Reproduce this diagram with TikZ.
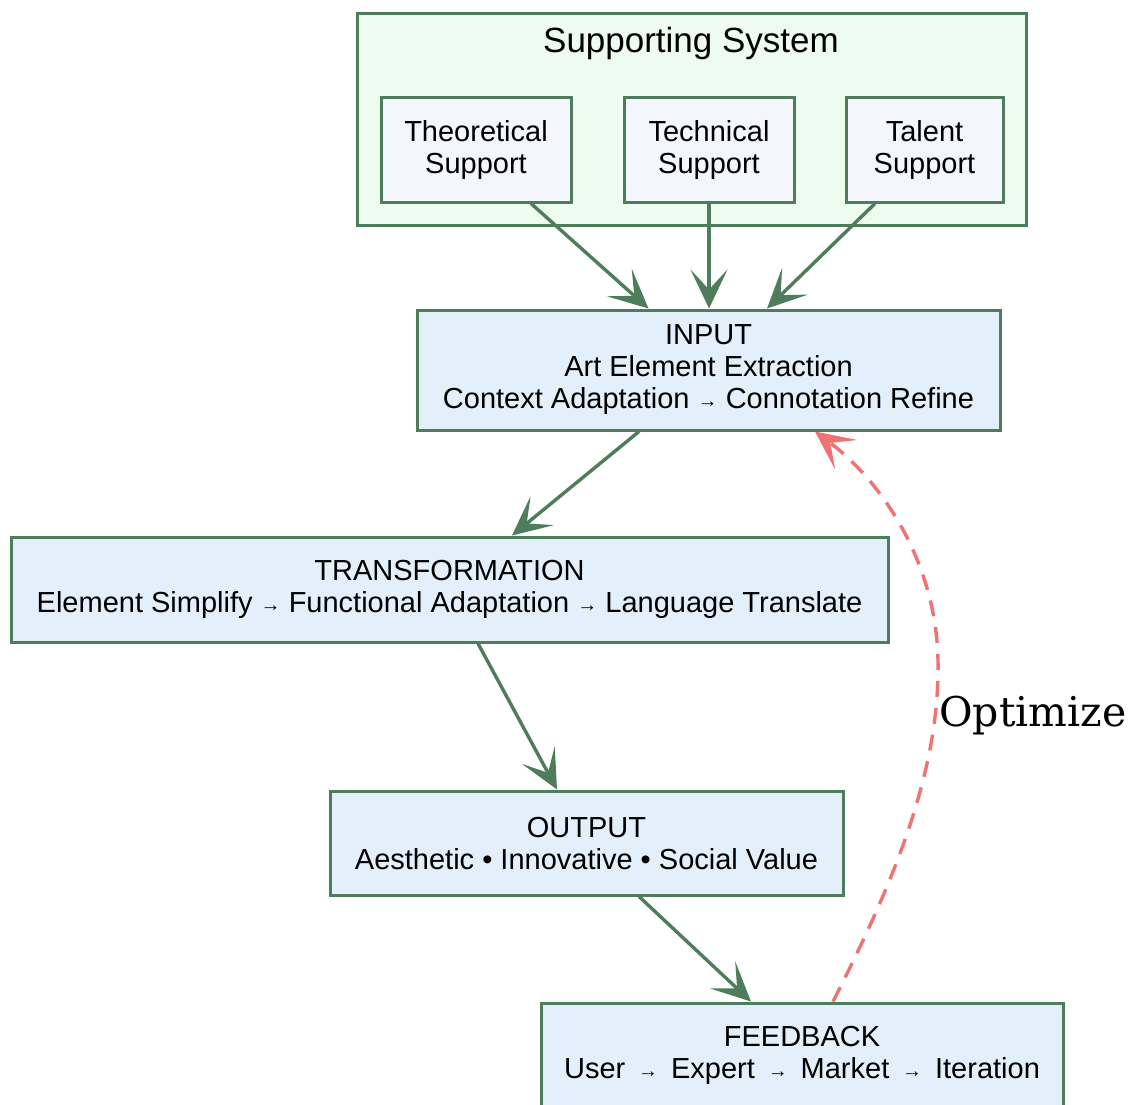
\documentclass[tikz,border=0pt]{standalone}
\usepackage{fontspec}
\setmainfont{Liberation Sans}
\newfontfamily\optfont{DejaVu Serif}
\usetikzlibrary{arrows.meta}
\definecolor{edgegreen}{HTML}{4E7D5B}
\definecolor{clusterfill}{HTML}{EEFCF0}
\definecolor{supfill}{HTML}{F3F7FD}
\definecolor{mainfill}{HTML}{E3F0FB}
\definecolor{optred}{HTML}{F07272}
\newcommand\myarr{{\fontsize{20}{20}\selectfont\raisebox{1pt}{→}}}
\tikzset{
  box/.style={draw=edgegreen, line width=3pt, align=center, inner sep=0pt,
    font=\fontsize{29}{32}\selectfont},
  supbox/.style={box, fill=supfill, minimum height=105pt},
  mainbox/.style={box, fill=mainfill},
  flow/.style={draw=edgegreen, line width=3.4pt,
    -{Stealth[length=39pt,width=37pt,inset=20pt]}},
  optflow/.style={draw=optred, line width=3.4pt, dash pattern=on 16pt off 11pt,
    -{Stealth[length=39pt,width=37pt,inset=20pt,sep=0pt]}}
}
\begin{document}
\begin{tikzpicture}[x=1pt,y=-1pt]
\clip (0,0) rectangle (1134,1104);
\fill[white] (0,0) rectangle (1134,1104);
% cluster
\node[draw=edgegreen, line width=3pt, fill=clusterfill, minimum width=669pt, minimum height=212pt, inner sep=0pt] (cluster) at (691.5,119) {};
\node[font=\fontsize{35}{40}\selectfont] (clabel) at (691,43) {Supporting System};
\node[supbox, minimum width=190pt] (th) at (476,149.5) {Theoretical\\Support};
\node[supbox, minimum width=170pt] (te) at (709,149.5) {Technical\\Support};
\node[supbox, minimum width=157pt] (ta) at (924.5,149.5) {Talent\\Support};
\node[mainbox, minimum width=583pt, minimum height=120pt] (in) at (708.5,370) {INPUT\\Art Element Extraction\\Context Adaptation \myarr{} Connotation Refine};
\node[mainbox, minimum width=877pt, minimum height=105pt] (tr) at (449.5,589.5) {TRANSFORMATION\\Element Simplify \myarr{} Functional Adaptation \myarr{} Language Translate};
\node[mainbox, minimum width=513pt, minimum height=104pt] (out) at (586.5,843) {OUTPUT\\Aesthetic • Innovative • Social Value};
\node[mainbox, minimum width=522pt, minimum height=104pt] (fb) at (802,1055) {FEEDBACK\\User\, \myarr{}\, Expert\, \myarr{}\, Market\, \myarr{}\, Iteration};
% edges
\draw[flow] ([xshift=55pt]th.south) -- ([xshift=-60pt]in.north);
\draw[flow] (te.south) -- (te.south |- in.north);
\draw[flow] ([xshift=-49.5pt]ta.south) -- ([xshift=58.5pt]in.north);
\draw[flow] ([xshift=-69.5pt]in.south) -- ([xshift=62.5pt]tr.north);
\draw[flow] ([xshift=28.5pt]tr.south) -- ([xshift=-29.5pt]out.north);
\draw[flow] ([xshift=52.5pt]out.south) -- ([xshift=-51pt]fb.north);
\draw[optflow] ([xshift=31pt]fb.north) .. controls (895,880) and (940,770) .. (938,660)
  .. controls (936,560) and (880,480) .. ([xshift=106.5pt]in.south);
\node[font=\optfont\fontsize{41}{44}\selectfont, anchor=west, inner sep=0pt] (optlabel) at (939,716) {Optimize};
\end{tikzpicture}
\end{document}
